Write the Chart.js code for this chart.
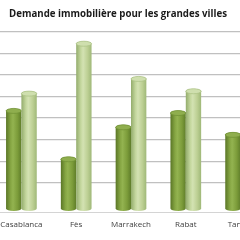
<!DOCTYPE html>
<html><head><meta charset="utf-8">
<script src="https://cdn.jsdelivr.net/npm/chart.js@4"></script>
<style>
html,body{margin:0;padding:0;width:240px;height:240px;overflow:hidden;background:#fff;}
#wrap{position:absolute;left:-32px;top:0;width:300px;height:240px;}
</style></head>
<body>
<div id="wrap"><canvas id="c" width="300" height="240"></canvas></div>
<script>
const categories = ['Casablanca', 'Fès', 'Marrakech', 'Rabat', 'Tanger'];
const seriesA = [4.33, 2.09, 3.57, 4.23, 3.22];
const seriesB = [5.13, 7.44, 5.81, 5.24, 4.6];
const seriesNames = ['Série 1', 'Série 2'];
const titleText = 'Demande immobilière pour les grandes villes';

const styles = [
  {stops:[[0,'#5a7626'],[0.3,'#86a643'],[0.45,'#93b350'],[0.75,'#7c9c3a'],[1,'#5f7d2a']], top:'#8fae4e', edge:'#6f8f33'},
  {stops:[[0,'#93ac6c'],[0.3,'#c4d79e'],[0.45,'#d3e2b2'],[0.75,'#bccf93'],[1,'#9fb878']], top:'#cfdfae', edge:'#a9c083'}
];

const cylinder = {
  id:'cylinder',
  afterDatasetsDraw(chart){
    const ctx = chart.ctx;
    chart.data.datasets.forEach((ds, di) => {
      const meta = chart.getDatasetMeta(di);
      const st = styles[di];
      meta.data.forEach(bar => {
        const p = bar.getProps(['x','y','base','width'], true);
        const rx = p.width/2, ry = 2.5;
        const l = p.x - rx, r = p.x + rx;
        const g = ctx.createLinearGradient(l,0,r,0);
        st.stops.forEach(s => g.addColorStop(s[0], s[1]));
        ctx.save();
        ctx.beginPath();
        ctx.moveTo(l, p.y);
        ctx.lineTo(l, p.base);
        ctx.ellipse(p.x, p.base, rx, ry, 0, Math.PI, 0, true);
        ctx.lineTo(r, p.y);
        ctx.ellipse(p.x, p.y, rx, ry, 0, 0, Math.PI, true);
        ctx.closePath();
        ctx.fillStyle = g;
        ctx.fill();
        ctx.beginPath();
        ctx.ellipse(p.x, p.y, rx, ry, 0, 0, Math.PI*2);
        ctx.fillStyle = st.top;
        ctx.fill();
        ctx.lineWidth = 0.7;
        ctx.strokeStyle = st.edge;
        ctx.stroke();
        ctx.restore();
      });
    });
  }
};

new Chart(document.getElementById('c'), {
  type:'bar',
  data:{
    labels: categories,
    datasets:[
      {label: seriesNames[0], data: seriesA, base: -0.19, backgroundColor:'rgba(0,0,0,0)', categoryPercentage:0.56, barPercentage:1},
      {label: seriesNames[1], data: seriesB, base: -0.19, backgroundColor:'rgba(0,0,0,0)', categoryPercentage:0.56, barPercentage:1}
    ]
  },
  options:{
    responsive:false,
    animation:false,
    layout:{padding:{left:0, right:0, top:0, bottom:2}},
    plugins:{
      legend:{display:false},
      tooltip:{enabled:false},
      title:{display:true, text:titleText, color:'#1a1a1a',
        font:{family:'Open Sans', size:9.7, weight:'bold'}, padding:{top:8, bottom:12}}
    },
    scales:{
      x:{
        grid:{display:false, drawTicks:false},
        border:{display:true, color:'#d4d4d4', width:1},
        ticks:{color:'#404040', font:{family:'Open Sans', size:8}, padding:8, maxRotation:0, autoSkip:false}
      },
      y:{
        min:-0.37, max:8,
        afterFit(scale){ scale.width = 26; },
        afterBuildTicks(scale){ scale.ticks = scale.ticks.filter(t => Number.isInteger(t.value)); },
        ticks:{display:false, stepSize:1},
        grid:{color:'#c0c0c0', lineWidth:1.2, drawTicks:false},
        border:{display:false}
      }
    }
  },
  plugins:[cylinder]
});
</script>
</body></html>
